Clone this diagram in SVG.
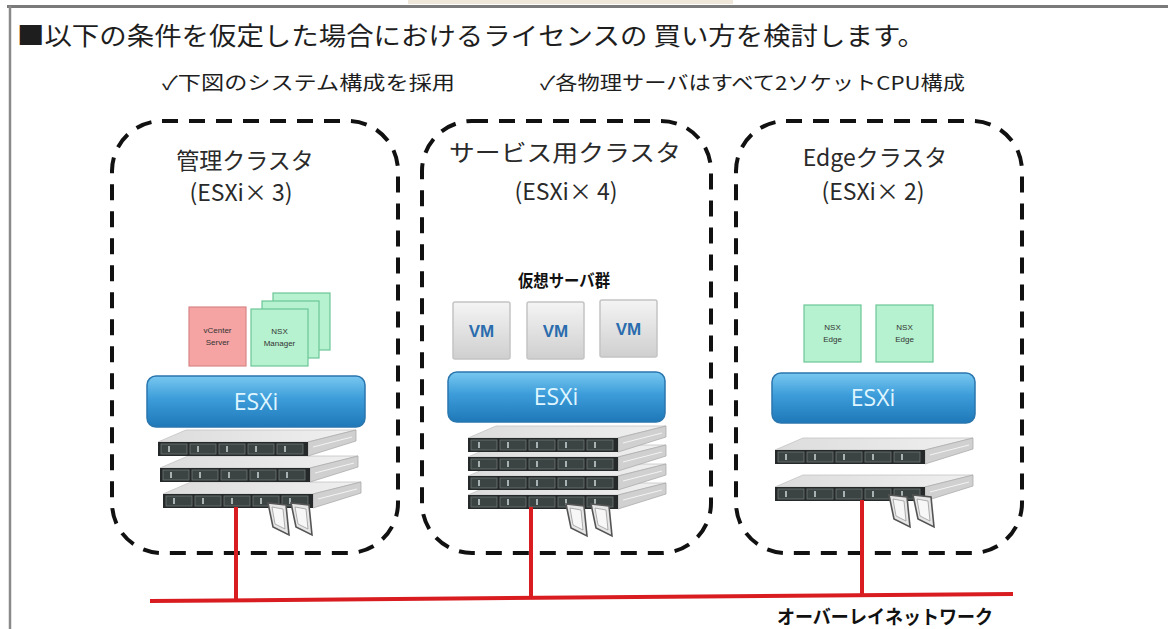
<svg xmlns="http://www.w3.org/2000/svg" xmlns:xlink="http://www.w3.org/1999/xlink" width="1168" height="629" viewBox="0 0 1168 629">
  <style>
    .jp { font-family: "Noto Sans CJK JP", "Noto Sans", sans-serif; fill: #1e1e1e; }
    .ttl { font-size: 25px; }
    .sub { font-size: 19px; }
    .clabel { font-size: 23px; text-anchor: middle; fill: #2a2a2a; }
    .bold { font-weight: 700; fill: #111; }
    .cluster { fill: none; stroke: #111; stroke-width: 4; stroke-dasharray: 16 11; }
    .esxi { fill: url(#esxiGrad); stroke: #2a76ae; stroke-width: 1.5; }
    .esxiTxt { font-family: "Open Sans", "Liberation Sans", sans-serif; font-size: 23px; fill: #dff5ff; text-anchor: middle; }
    .vm { fill: url(#vmGrad); stroke: #c4c4c4; stroke-width: 1.5; }
    .vmTxt { font-family: "Liberation Sans", Arial, sans-serif; font-weight: 700; font-size: 17px; fill: #2a6cad; text-anchor: middle; }
    .nsx { fill: #b6f2cf; stroke: #6cc596; stroke-width: 1.2; }
    .vc { fill: #f5a3a3; stroke: #d88585; stroke-width: 1.2; }
    .tiny { font-family: "Liberation Sans", Arial, sans-serif; font-size: 8px; fill: #333; text-anchor: middle; }
    .net { stroke: #d81c20; stroke-width: 4; fill: none; stroke-linecap: butt; }
  </style>
  <defs>
    <linearGradient id="esxiGrad" x1="0" y1="0" x2="0" y2="1">
      <stop offset="0" stop-color="#78c8f0"/>
      <stop offset="0.45" stop-color="#3c9cd9"/>
      <stop offset="1" stop-color="#1f78b8"/>
    </linearGradient>
    <linearGradient id="vmGrad" x1="0" y1="0" x2="0" y2="1">
      <stop offset="0" stop-color="#f4f4f4"/>
      <stop offset="1" stop-color="#cfcfcf"/>
    </linearGradient>
    <linearGradient id="topGrad" x1="0" y1="0" x2="1" y2="0">
      <stop offset="0" stop-color="#dcdcdc"/>
      <stop offset="1" stop-color="#f0f0f0"/>
    </linearGradient>
    <!-- one 1U rack server: top face, side face, front panel with drive bays -->
    <g id="srv">
      <polygon points="0,0 150,0 198,-12 28,-12" fill="url(#topGrad)" stroke="#c4c4c4" stroke-width="0.8"/>
      <polygon points="150,0 198,-12 198,-1 150,14" fill="#d0d0d0" stroke="#acacac" stroke-width="0.8"/>
      <line x1="155" y1="5" x2="194" y2="-5" stroke="#f4f4f4" stroke-width="1"/>
      <rect x="0" y="0" width="150" height="14" fill="#252929"/>
      <rect x="3" y="2" width="26" height="10" fill="#3c4343" stroke="#6d7575" stroke-width="0.8"/>
      <rect x="32" y="2" width="26" height="10" fill="#3c4343" stroke="#6d7575" stroke-width="0.8"/>
      <rect x="61" y="2" width="26" height="10" fill="#3c4343" stroke="#6d7575" stroke-width="0.8"/>
      <rect x="90" y="2" width="26" height="10" fill="#3c4343" stroke="#6d7575" stroke-width="0.8"/>
      <rect x="119" y="2" width="26" height="10" fill="#3c4343" stroke="#6d7575" stroke-width="0.8"/>
      <rect x="10" y="4" width="2" height="6" fill="#a9b2b2"/>
      <rect x="39" y="4" width="2" height="6" fill="#a9b2b2"/>
      <rect x="68" y="4" width="2" height="6" fill="#a9b2b2"/>
      <rect x="97" y="4" width="2" height="6" fill="#a9b2b2"/>
      <rect x="126" y="4" width="2" height="6" fill="#a9b2b2"/>
    </g>
    <!-- pulled-out drive tray -->
    <g id="tray">
      <polygon points="0,0 18,2 21,32 5,24" fill="#e6e6e6" stroke="#555" stroke-width="1.6"/>
      <polygon points="4,4 15,6 17,26 7,21" fill="#f7f7f7" stroke="#9a9a9a" stroke-width="0.8"/>
    </g>
  </defs>

  <rect width="1168" height="629" fill="#ffffff"/>

  <!-- page frame -->
  <rect x="408" y="0" width="325" height="4" fill="#efe7da"/>
  <line x1="7" y1="6.5" x2="1168" y2="6.5" stroke="#7a7a7a" stroke-width="3"/>
  <line x1="10" y1="6" x2="10" y2="629" stroke="#8a8a8a" stroke-width="2.5"/>

  <!-- headings -->
  <text class="jp ttl" x="17" y="45" textLength="908" lengthAdjust="spacingAndGlyphs">■以下の条件を仮定した場合におけるライセンスの 買い方を検討します。</text>
  <text class="jp sub" x="162" y="90" textLength="293" lengthAdjust="spacingAndGlyphs">✓下図のシステム構成を採用</text>
  <text class="jp sub" x="540" y="90" textLength="425" lengthAdjust="spacingAndGlyphs">✓各物理サーバはすべて2ソケットCPU構成</text>

  <!-- management cluster -->
  <g id="cluster-mgmt">
    <rect class="cluster" x="112" y="121" width="286" height="432" rx="50" ry="50"/>
    <text class="jp clabel" x="245" y="169">管理クラスタ</text>
    <text class="jp clabel" x="241" y="201" font-size="22">(ESXi× 3)</text>
    <rect class="vc" x="189" y="307" width="57" height="59"/>
    <text class="tiny" x="217.5" y="333">vCenter</text>
    <text class="tiny" x="217.5" y="345">Server</text>
    <rect class="nsx" x="273" y="293" width="57" height="57"/>
    <rect class="nsx" x="262" y="301" width="57" height="57"/>
    <rect class="nsx" x="251" y="309" width="57" height="57"/>
    <text class="tiny" x="279.5" y="334">NSX</text>
    <text class="tiny" x="279.5" y="346">Manager</text>
    <rect class="esxi" x="147" y="376" width="218" height="51" rx="9"/>
    <text class="esxiTxt" x="256" y="410">ESXi</text>
    <use xlink:href="#srv" x="163" y="494"/>
    <use xlink:href="#srv" x="160" y="468"/>
    <use xlink:href="#srv" x="158" y="442"/>
    <use xlink:href="#tray" x="268" y="503"/>
    <use xlink:href="#tray" x="291" y="503"/>
  </g>

  <!-- service cluster -->
  <g id="cluster-service">
    <rect class="cluster" x="422" y="121" width="289" height="432" rx="50" ry="50"/>
    <text class="jp clabel" x="565" y="161" textLength="232" lengthAdjust="spacingAndGlyphs">サービス用クラスタ</text>
    <text class="jp clabel" x="566" y="200" font-size="22">(ESXi× 4)</text>
    <text class="jp bold" x="518" y="287" font-size="17" textLength="92" lengthAdjust="spacingAndGlyphs">仮想サーバ群</text>
    <rect class="vm" x="453" y="302" width="57" height="57" rx="2"/>
    <rect class="vm" x="527" y="302" width="57" height="57" rx="2"/>
    <rect class="vm" x="600" y="300" width="57" height="57" rx="2"/>
    <text class="vmTxt" x="481.5" y="337">VM</text>
    <text class="vmTxt" x="555.5" y="337">VM</text>
    <text class="vmTxt" x="628.5" y="335">VM</text>
    <rect class="esxi" x="448" y="372" width="217" height="50" rx="9"/>
    <text class="esxiTxt" x="556" y="405">ESXi</text>
    <use xlink:href="#srv" x="468" y="495"/>
    <use xlink:href="#srv" x="468" y="476"/>
    <use xlink:href="#srv" x="468" y="457"/>
    <use xlink:href="#srv" x="468" y="438"/>
    <use xlink:href="#tray" x="566" y="504"/>
    <use xlink:href="#tray" x="591" y="504"/>
  </g>

  <!-- edge cluster -->
  <g id="cluster-edge">
    <rect class="cluster" x="736" y="121" width="286" height="432" rx="50" ry="50"/>
    <text class="jp clabel" x="875" y="166">Edgeクラスタ</text>
    <text class="jp clabel" x="873" y="200" font-size="22">(ESXi× 2)</text>
    <rect class="nsx" x="804" y="305" width="57" height="57"/>
    <rect class="nsx" x="876" y="305" width="57" height="57"/>
    <text class="tiny" x="832.5" y="330">NSX</text>
    <text class="tiny" x="832.5" y="342">Edge</text>
    <text class="tiny" x="904.5" y="330">NSX</text>
    <text class="tiny" x="904.5" y="342">Edge</text>
    <rect class="esxi" x="772" y="373" width="203" height="50" rx="9"/>
    <text class="esxiTxt" x="873" y="406">ESXi</text>
    <use xlink:href="#srv" x="775" y="487"/>
    <use xlink:href="#srv" x="775" y="450"/>
    <use xlink:href="#tray" x="889" y="495"/>
    <use xlink:href="#tray" x="913" y="495"/>
  </g>

  <!-- overlay network links -->
  <g id="connectors">
    <line class="net" x1="150" y1="601" x2="1013" y2="594"/>
    <line class="net" x1="236" y1="507" x2="236" y2="600.3"/>
    <line class="net" x1="531" y1="507" x2="531" y2="598"/>
    <line class="net" x1="862" y1="500" x2="862" y2="595.3"/>
  </g>
  <text class="jp bold" x="777" y="624" font-size="19" textLength="216" lengthAdjust="spacingAndGlyphs">オーバーレイネットワーク</text>
</svg>
